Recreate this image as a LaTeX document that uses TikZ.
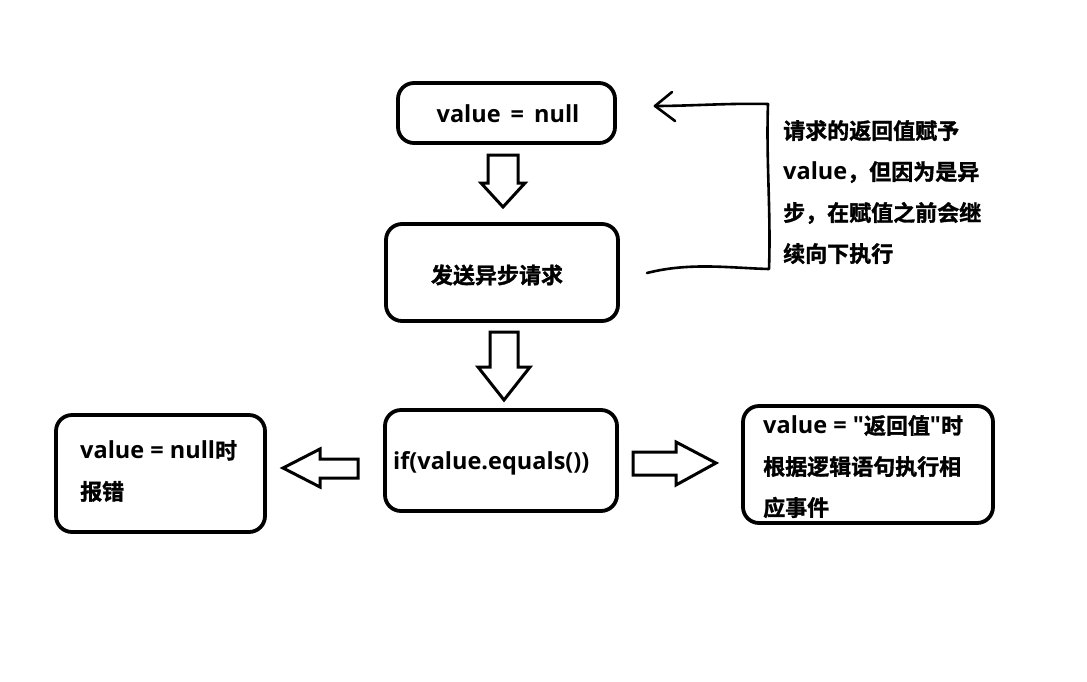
\documentclass[tikz,border=0pt]{standalone}
\usepackage{fontspec}
\setmainfont{Open Sans}[BoldFont=* Bold]
\newfontfamily\zhf{Noto Sans CJK SC Bold}[FakeBold=1.4]
\newfontfamily\latf{Open Sans Bold}
\newcommand{\zh}[1]{{\zhf\fontsize{22}{41}\selectfont #1}}
\begin{document}
\begin{tikzpicture}[x=1pt,y=-1pt,
  boxstyle/.style={draw,line width=3.8pt,rounded corners=16pt,inner sep=0pt},
  txt/.style={font=\latf\fontsize{23.5}{41}\selectfont,inner sep=0pt,align=left},
  blockarrow/.style={draw,line width=3pt,fill=white,line join=miter},
  hand/.style={draw,line width=2.6pt,line cap=round,line join=round}]
\useasboundingbox (0,0) rectangle (1087,681);
% boxes
\node[boxstyle,minimum width=217pt,minimum height=60pt] (b1) at (506.5,113) {};
\node[boxstyle,minimum width=232pt,minimum height=97pt] (b2) at (502,272.5) {};
\node[boxstyle,minimum width=232pt,minimum height=101pt] (b3) at (501,460.5) {};
\node[boxstyle,minimum width=209pt,minimum height=117pt] (bl) at (160.5,473.5) {};
\node[boxstyle,minimum width=250pt,minimum height=117pt] (br) at (868,464.5) {};
% texts
\node[txt] (t1) at (508,114) {value\ \,=\ \,null};
\node[txt] (t2) at (497,275) {\zh{发送异步请求}};
\node[txt,anchor=west] (t3) at (393,463) {if(value.equals())};
\node[txt,anchor=north west] (tl) at (80,440) {value\ =\ null\zh{时}\\\zh{报错}};
\node[txt,anchor=north west] (tr) at (763,415) {value\ =\ "\zh{返回值}"\zh{时}\\\zh{根据逻辑语句执行相}\\\zh{应事件}};
\node[txt,anchor=north west] (ta) at (783,120) {\zh{请求的返回值赋予}\\value\zh{，但因为是异}\\\zh{步，在赋值之前会继}\\\zh{续向下执行}};
% block arrows
\draw[blockarrow] (488,155) -- (518,155) -- (518,183) -- (525,183) -- (503,207) -- (481,183) -- (488,183) -- cycle;
\draw[blockarrow] (490,332) -- (518,332) -- (518,367) -- (530,367) -- (504,400) -- (478,367) -- (490,367) -- cycle;
\draw[blockarrow] (358,459) -- (320,459) -- (320,449) -- (283,468) -- (320,487) -- (320,478) -- (358,478) -- cycle;
\draw[blockarrow] (633,452) -- (676,452) -- (676,442) -- (716,463) -- (676,485) -- (676,475) -- (633,475) -- cycle;
% hand drawn feedback arrow
\coordinate (hs) at (647,273);
\coordinate (hc) at (769,269);
\coordinate (ht) at (768,104);
\coordinate (hp) at (655,106);
\draw[hand] (hs) .. controls (690,262) and (730,268) .. (hc)
  .. controls (771,210) and (766,160) .. (ht)
  .. controls (730,103) and (690,106) .. (hp);
\draw[hand] (672,92) -- (hp) -- (675,121);
\end{tikzpicture}
\end{document}
